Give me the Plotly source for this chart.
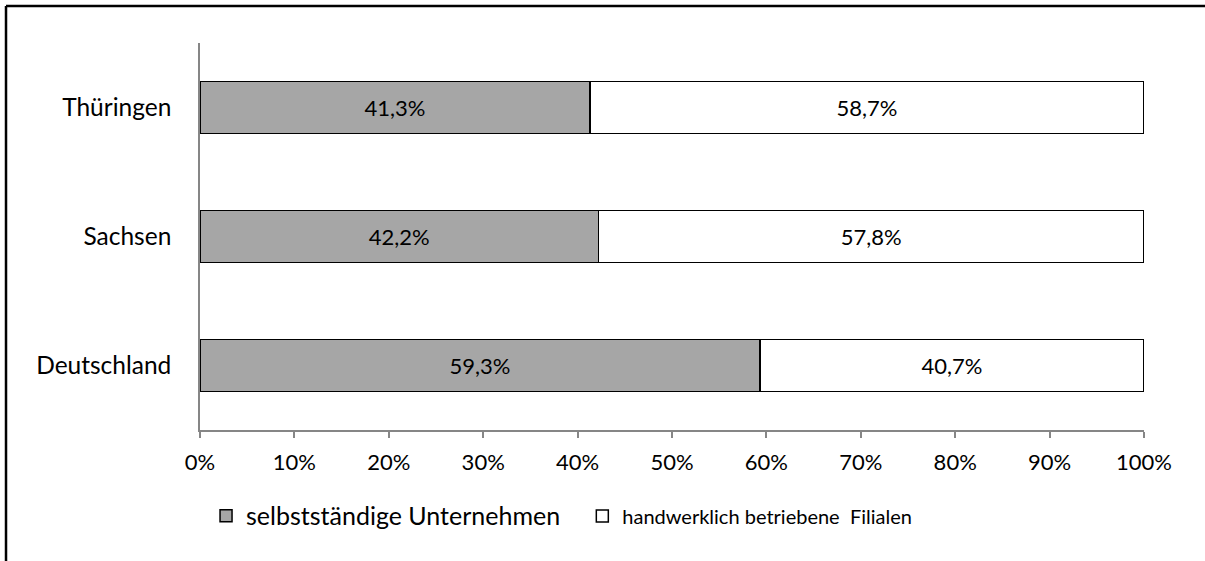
import plotly.graph_objects as go

# Datos del gráfico
regionen = ['Deutschland', 'Sachsen', 'Thüringen']
selbststaendig = [59.3, 42.2, 41.3]
filialen = [40.7, 57.8, 58.7]
serien_namen = ['selbstständige Unternehmen', 'handwerklich betriebene\u00a0 Filialen']
x_ticks = [0, 10, 20, 30, 40, 50, 60, 70, 80, 90, 100]


def fmt(v):
    '''Formato alemán con coma decimal'''
    return f'{v:.1f}'.replace('.', ',') + '%'


familie = 'Lato, Noto Sans, sans-serif'

fig = go.Figure()

# Cada serie con su propia leyenda (tamaños de letra distintos)
for werte, name, farbe, leg in zip([selbststaendig, filialen], serien_namen,
                                   ['#A6A6A6', 'white'], ['legend', 'legend2']):
    fig.add_trace(go.Bar(
        y=regionen,
        x=werte,
        name=name,
        orientation='h',
        width=0.4,
        legend=leg,
        marker=dict(color=farbe, line=dict(color='black', width=1.5)),
        text=[fmt(v) for v in werte],
        textposition='inside',
        insidetextanchor='middle',
        textfont=dict(family=familie, size=22, color='black'),
        hoverinfo='skip'
    ))

# Marco (arriba e izquierda)
rahmen = [
    dict(type='line', xref='paper', yref='paper', x0=-0.2055, x1=1.12, y0=1.0956, y1=1.0956,
         line=dict(color='black', width=2.5)),
    dict(type='line', xref='paper', yref='paper', x0=-0.2055, x1=-0.2055, y0=1.0956, y1=-0.40,
         line=dict(color='black', width=2.5)),
]

fig.update_layout(
    barmode='stack',
    width=1205,
    height=561,
    margin=dict(l=200, r=61, t=43, b=131),
    paper_bgcolor='white',
    plot_bgcolor='white',
    font=dict(family=familie, size=22, color='black'),
    shapes=rahmen,
    showlegend=True,
    legend=dict(
        orientation='h',
        x=0.0064, xanchor='left',
        y=-0.222, yanchor='middle',
        font=dict(family=familie, size=25, color='black')
    ),
    legend2=dict(
        orientation='h',
        x=0.405, xanchor='left',
        y=-0.222, yanchor='middle',
        font=dict(family=familie, size=20, color='black')
    ),
    xaxis=dict(
        range=[0, 100],
        tickvals=x_ticks,
        ticktext=[f'{t}%' for t in x_ticks],
        showgrid=False,
        zeroline=False,
        showline=True,
        linecolor='#868686',
        linewidth=1.5,
        ticks='outside',
        tickcolor='#868686',
        ticklen=6,
        tickwidth=1.5,
        ticklabelstandoff=6,
        tickfont=dict(family=familie, size=22, color='black')
    ),
    yaxis=dict(
        range=[-0.5, 2.5],
        showgrid=False,
        zeroline=False,
        showline=True,
        linecolor='#868686',
        linewidth=1.5,
        ticks='',
        ticklabelstandoff=22,
        tickfont=dict(family=familie, size=24.5, color='black')
    )
)

fig.write_html('out.html', config={'displayModeBar': False},
               post_script="document.body.style.margin='0';")
